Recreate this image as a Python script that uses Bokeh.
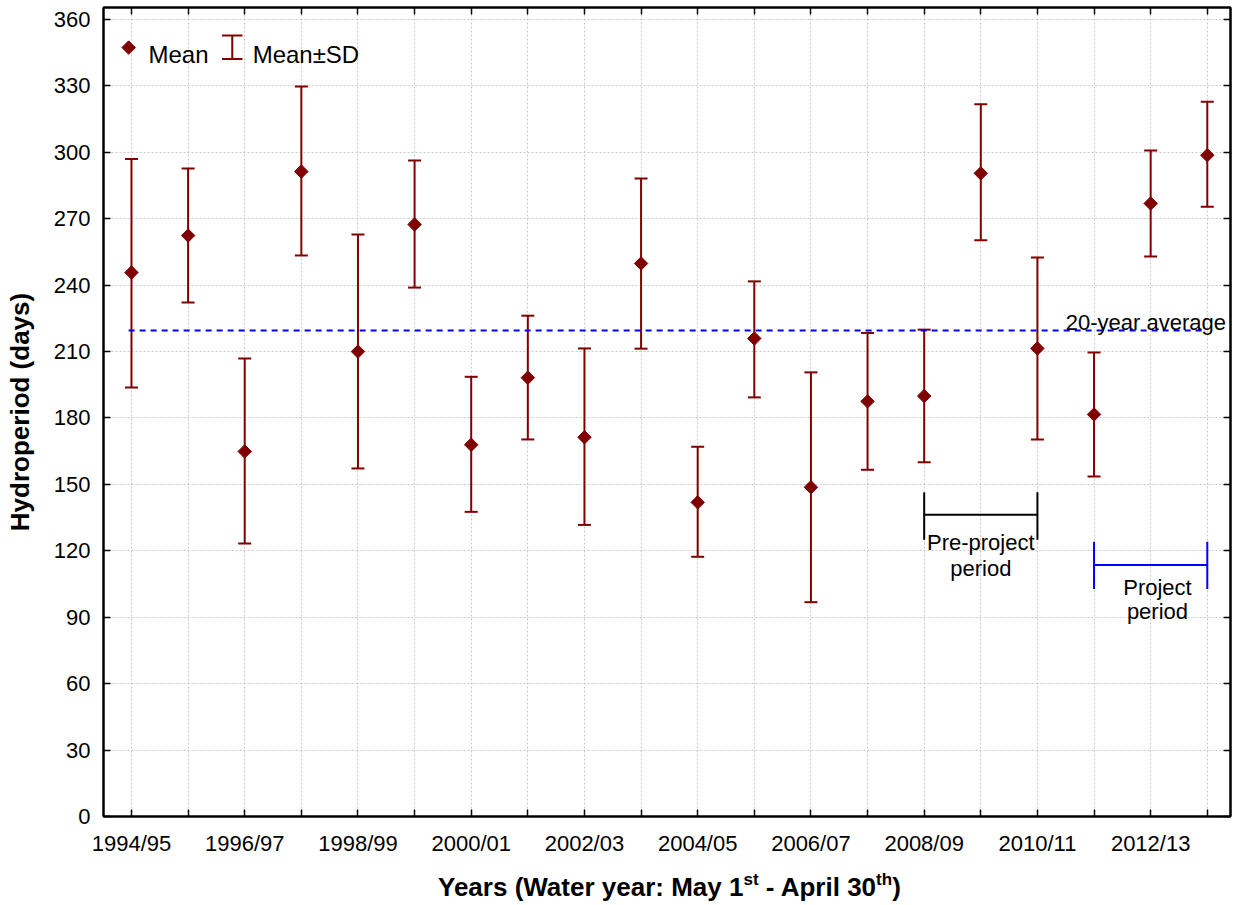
import numpy as np
from bokeh.plotting import figure
from bokeh.layouts import column
from bokeh.models import (ColumnDataSource, Range1d, FixedTicker, Whisker, TeeHead,
                          Label, LinearAxis, Div)
from bokeh.embed import file_html
from bokeh.resources import INLINE

# ---------------- data ----------------
years = ["1994/95", "1995/96", "1996/97", "1997/98", "1998/99", "1999/00", "2000/01",
         "2001/02", "2002/03", "2003/04", "2004/05", "2005/06", "2006/07", "2007/08",
         "2008/09", "2009/10", "2010/11", "2011/12", "2012/13", "2013/14"]
mean = [245.7, 262.4, 164.9, 291.3, 210.0, 267.4, 167.9, 198.2, 171.3, 249.8,
        141.9, 215.9, 148.7, 187.5, 189.9, 290.5, 211.4, 181.6, 276.9, 298.7]
upper = [297.0, 292.7, 206.9, 329.7, 262.9, 296.3, 198.6, 226.2, 211.4, 288.2,
         167.0, 241.7, 200.6, 218.4, 219.9, 321.7, 252.5, 209.6, 300.8, 322.8]
lower = [193.8, 232.2, 123.3, 253.4, 157.2, 238.9, 137.6, 170.3, 131.7, 211.3,
         117.3, 189.3, 96.8, 156.6, 160.0, 260.3, 170.3, 153.6, 252.9, 275.4]
avg_20yr = 219.5
y_ticks = [0, 30, 60, 90, 120, 150, 180, 210, 240, 270, 300, 330, 360]
x_tick_labels = {i: (years[i] if i % 2 == 0 else "") for i in range(len(years))}

RED = "#800000"
FONT = "Liberation Sans"

src = ColumnDataSource(dict(x=list(range(len(years))), mean=mean, upper=upper, lower=lower))

p = figure(width=1233, height=858, output_backend="svg", toolbar_location=None,
           x_range=Range1d(-0.494, 19.41), y_range=Range1d(0, 365.4),
           min_border_left=103, min_border_right=3, min_border_top=7, min_border_bottom=42)
p.outline_line_color = "black"
p.outline_line_width = 2
p.background_fill_color = "white"
p.border_fill_color = "white"

# axes
xt = FixedTicker(ticks=list(range(len(years))))
yt = FixedTicker(ticks=y_ticks)
for ax in p.xaxis:
    ax.ticker = xt
    ax.major_label_overrides = x_tick_labels
    ax.major_label_standoff = 14
for ax in p.yaxis:
    ax.ticker = yt
    ax.axis_label = "Hydroperiod (days)"
    ax.axis_label_text_font = FONT
    ax.axis_label_text_font_size = "26px"
    ax.axis_label_text_font_style = "bold"
    ax.axis_label_text_color = "black"
    ax.axis_label_standoff = 16
    ax.major_label_standoff = 13
for ax in list(p.xaxis) + list(p.yaxis):
    ax.major_label_text_font = FONT
    ax.major_label_text_font_size = "22px"
    ax.major_label_text_color = "black"
    ax.major_tick_in = 7
    ax.major_tick_out = 0
    ax.minor_tick_line_color = None
    ax.axis_line_width = 2
    ax.major_tick_line_width = 1.5

top = LinearAxis(ticker=xt, major_label_text_font_size="0px", major_tick_in=7, major_tick_out=0,
                 minor_tick_line_color=None, major_label_standoff=0, axis_line_width=2,
                 major_tick_line_width=1.5,
                 major_label_overrides={i: "" for i in range(len(years))})
right = LinearAxis(ticker=yt, major_label_text_font_size="0px", major_tick_in=7, major_tick_out=0,
                   minor_tick_line_color=None, major_label_standoff=0, axis_line_width=2,
                   major_tick_line_width=1.5,
                   major_label_overrides={v: "" for v in y_ticks})
p.add_layout(top, "above")
p.add_layout(right, "right")

# grid
p.xgrid.ticker = xt
p.ygrid.ticker = yt
for g in (p.xgrid, p.ygrid):
    g.grid_line_color = "#c8c8c8"
    g.grid_line_dash = "2 2"
    g.grid_line_width = 1

# 20-year average
p.line(x=[-0.05, 18.9], y=[avg_20yr, avg_20yr], line_color="#0000ff", line_width=2,
       line_dash="6 5")
p.add_layout(Label(x=16.5, y=avg_20yr + 3.6, text="20-year average", text_font=FONT,
                   text_font_size="22px", text_color="black", text_baseline="alphabetic"))

# error bars and means
p.add_layout(Whisker(source=src, base="x", upper="upper", lower="lower",
                     line_color=RED, line_width=2,
                     upper_head=TeeHead(size=13, line_color=RED, line_width=2),
                     lower_head=TeeHead(size=13, line_color=RED, line_width=2)))
p.scatter("x", "mean", source=src, marker="square", angle=np.pi / 4, size=9.5,
          fill_color=RED, line_color=RED)

# period brackets
p.segment(x0=[14, 14, 16], y0=[136.3, 125, 125], x1=[16, 14, 16], y1=[136.3, 146.4, 146.4],
          line_color="black", line_width=2)
p.segment(x0=[17, 17, 19], y0=[113.6, 102.7, 102.7], x1=[19, 17, 19], y1=[113.6, 124.1, 124.1],
          line_color="#0000ff", line_width=2)
for (tx, ty, tt) in [(15.0, 123.8, "Pre-project"), (15.0, 112.0, "period"),
                     (18.12, 103.4, "Project"), (18.12, 92.4, "period")]:
    p.add_layout(Label(x=tx, y=ty, text=tt, text_font=FONT, text_font_size="22px",
                       text_color="black", text_align="center", text_baseline="alphabetic"))

# legend (manual)
p.scatter(x=[-0.05], y=[347.3], marker="square", angle=np.pi / 4, size=9.5,
          fill_color=RED, line_color=RED)
p.add_layout(Label(x=0.3, y=344, text="Mean", text_font=FONT, text_font_size="24px",
                   text_color="black", text_baseline="alphabetic"))
p.segment(x0=[1.78, 1.6, 1.6], y0=[342.1, 352.8, 342.1], x1=[1.78, 1.96, 1.96],
          y1=[352.8, 352.8, 342.1], line_color=RED, line_width=2)
p.add_layout(Label(x=2.14, y=344, text="Mean\u00b1SD", text_font=FONT, text_font_size="24px",
                   text_color="black", text_baseline="alphabetic"))

# x-axis title with real superscripts
sup = "font-size:17px;line-height:0;vertical-align:11px"
title_html = (
    "<div style=\"text-align:left;font-family:'Liberation Sans',Arial,sans-serif;"
    "font-size:26px;font-weight:bold;line-height:30px;padding-top:14px;color:#000;"
    "white-space:nowrap\">"
    f"Years (Water year: May 1<sup style=\"{sup}\">st</sup> - April 30"
    f"<sup style=\"{sup}\">th</sup>)</div>"
)
xtitle = Div(text=title_html, width=795, height=47, margin=(0, 0, 0, 438))

layout = column(p, xtitle, spacing=0)
open("out.html", "w").write(file_html(layout, INLINE))
